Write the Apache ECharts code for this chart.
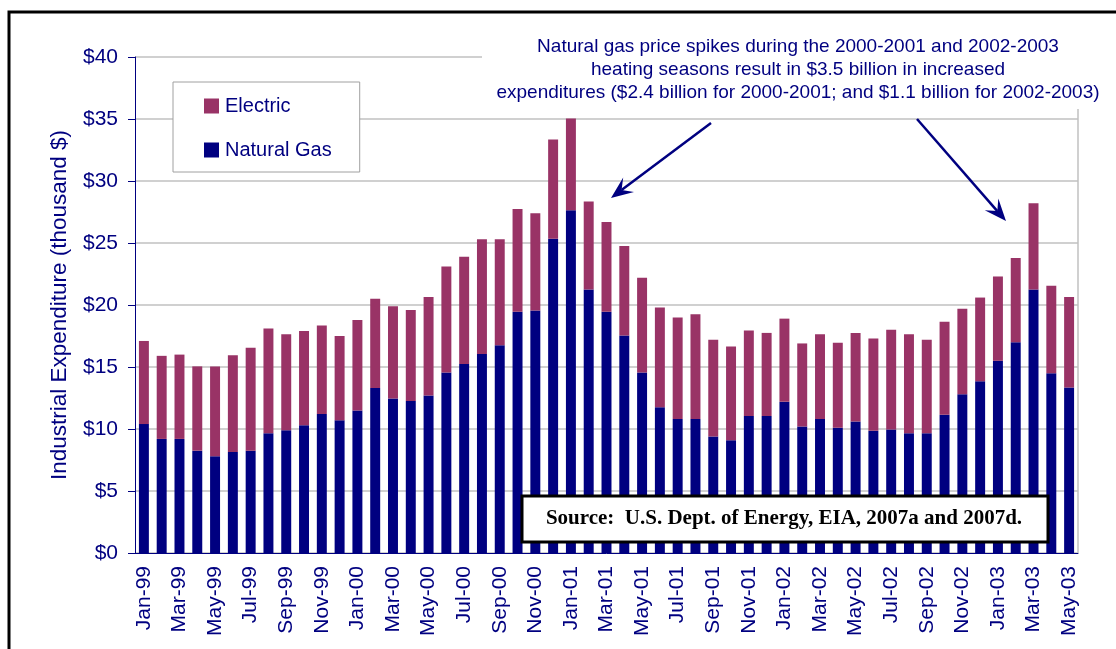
<!DOCTYPE html>
<html>
<head>
<meta charset="utf-8">
<title>Industrial Expenditure</title>
<script src="https://cdn.jsdelivr.net/npm/echarts@6/dist/echarts.min.js"></script>
<style>
  html, body { margin: 0; padding: 0; background: #fff; }
  #chart { width: 1116px; height: 649px; }
</style>
</head>
<body>
<div id="chart"></div>
<script>
// months, Jan-99 .. May-03
const months = [
  'Jan-99', 'Feb-99', 'Mar-99', 'Apr-99', 'May-99', 'Jun-99', 'Jul-99', 'Aug-99', 'Sep-99', 'Oct-99', 'Nov-99', 'Dec-99',
  'Jan-00', 'Feb-00', 'Mar-00', 'Apr-00', 'May-00', 'Jun-00', 'Jul-00', 'Aug-00', 'Sep-00', 'Oct-00', 'Nov-00', 'Dec-00',
  'Jan-01', 'Feb-01', 'Mar-01', 'Apr-01', 'May-01', 'Jun-01', 'Jul-01', 'Aug-01', 'Sep-01', 'Oct-01', 'Nov-01', 'Dec-01',
  'Jan-02', 'Feb-02', 'Mar-02', 'Apr-02', 'May-02', 'Jun-02', 'Jul-02', 'Aug-02', 'Sep-02', 'Oct-02', 'Nov-02', 'Dec-02',
  'Jan-03', 'Feb-03', 'Mar-03', 'Apr-03', 'May-03'
]

// thousand $
const naturalGas = [
  10.4, 9.2, 9.2, 8.25, 7.8, 8.15, 8.25, 9.65, 9.9, 10.3, 11.2, 10.7,
  11.5, 13.3, 12.45, 12.25, 12.7, 14.55, 15.25, 16.05, 16.75, 19.45, 19.55, 25.35,
  27.65, 21.25, 19.45, 17.55, 14.55, 11.75, 10.8, 10.8, 9.4, 9.1, 11.05, 11.05,
  12.2, 10.2, 10.8, 10.1, 10.6, 9.85, 9.95, 9.65, 9.65, 11.15, 12.8, 13.85,
  15.5, 17.0, 21.25, 14.5, 13.35
]

const electric = [
  6.7, 6.7, 6.8, 6.8, 7.25, 7.8, 8.3, 8.45, 7.75, 7.6, 7.15, 6.8,
  7.3, 7.2, 7.45, 7.35, 7.95, 8.55, 8.65, 9.25, 8.55, 8.3, 7.85, 8.0,
  7.4, 7.1, 7.25, 7.2, 7.65, 8.05, 8.2, 8.45, 7.8, 7.55, 6.9, 6.7,
  6.7, 6.7, 6.85, 6.85, 7.15, 7.45, 8.05, 8.0, 7.55, 7.5, 6.9, 6.75,
  6.8, 6.8, 6.95, 7.05, 7.3
]

const noteLines = [
  'Natural gas price spikes during the 2000-2001 and 2002-2003',
  'heating seasons result in $3.5 billion in increased',
  'expenditures ($2.4 billion for 2000-2001; and $1.1 billion for 2002-2003)'
]
const sourceText = 'Source:  U.S. Dept. of Energy, EIA, 2007a and 2007d.'

const NAVY = '#000080'
const PLUM = '#993366'
const FONT = '"Liberation Sans", Arial, sans-serif'

// arrow as a line plus a notched head
const arrow = (x1, y1, x2, y2) => {
  const dx = x2 - x1, dy = y2 - y1
  const len = Math.sqrt(dx * dx + dy * dy)
  const ux = dx / len, uy = dy / len
  const nx = -uy, ny = ux
  const L = 22, W = 9
  const bx = x2 - ux * L, by = y2 - uy * L
  const mx = x2 - ux * L * 0.6, my = y2 - uy * L * 0.6
  return [
    {
      type: 'line',
      z: 5,
      shape: { x1: x1, y1: y1, x2: mx, y2: my },
      style: { stroke: NAVY, lineWidth: 2.5 }
    },
    {
      type: 'polygon',
      z: 5,
      shape: { points: [[x2, y2], [bx + nx * W, by + ny * W], [mx, my], [bx - nx * W, by - ny * W]] },
      style: { fill: NAVY }
    }
  ]
}

const chart = echarts.init(document.getElementById('chart'))

const option = {
  animation: false,
  textStyle: { fontFamily: FONT },
  grid: { left: 135, right: 38, top: 57, bottom: 96 },
  legend: {
    data: ['Electric', 'Natural Gas'],
    orient: 'vertical',
    left: 173,
    top: 82,
    padding: [14, 28, 12, 31],
    itemGap: 24,
    itemWidth: 15,
    itemHeight: 15,
    icon: 'rect',
    backgroundColor: '#fff',
    borderColor: '#a0a0a0',
    borderWidth: 1,
    textStyle: { color: NAVY, fontSize: 20, fontFamily: FONT, padding: [0, 0, 0, 1] }
  },
  xAxis: {
    type: 'category',
    data: months,
    axisLine: { lineStyle: { color: NAVY, width: 1 } },
    axisTick: { interval: 1, length: 6, lineStyle: { color: NAVY } },
    axisLabel: {
      interval: 1,
      rotate: 90,
      margin: 13,
      color: NAVY,
      fontSize: 21,
      fontFamily: FONT
    },
    splitLine: { show: false }
  },
  yAxis: {
    type: 'value',
    min: 0,
    max: 40,
    interval: 5,
    name: 'Industrial Expenditure (thousand $)',
    nameLocation: 'middle',
    nameGap: 64,
    nameTextStyle: { color: NAVY, fontSize: 22.5, fontFamily: FONT },
    axisLine: { show: true, lineStyle: { color: NAVY, width: 1 } },
    axisTick: { show: true, length: 7, lineStyle: { color: NAVY } },
    axisLabel: {
      color: NAVY,
      fontSize: 21,
      fontFamily: FONT,
      margin: 17,
      formatter: v => '$' + v
    },
    splitLine: { lineStyle: { color: '#c0c0c0', width: 1.5 } }
  },
  series: [
    {
      name: 'Natural Gas',
      type: 'bar',
      stack: 'total',
      barWidth: '56%',
      itemStyle: { color: NAVY },
      data: naturalGas
    },
    {
      name: 'Electric',
      type: 'bar',
      stack: 'total',
      itemStyle: { color: PLUM },
      data: electric
    }
  ],
  graphic: [
    // outer frame
    {
      type: 'rect',
      z: 20,
      shape: { x: 9, y: 12, width: 1200, height: 700 },
      style: { fill: 'none', stroke: '#000', lineWidth: 3 }
    },
    // plot right border
    {
      type: 'line',
      z: 0,
      shape: { x1: 1078, y1: 57, x2: 1078, y2: 553 },
      style: { stroke: '#c0c0c0', lineWidth: 1.5 }
    },
    // note background
    {
      type: 'rect',
      z: 1,
      shape: { x: 482, y: 30, width: 630, height: 79 },
      style: { fill: '#fff' }
    },
    ...noteLines.map((t, i) => ({
      type: 'text',
      z: 6,
      x: 798,
      y: 47 + i * 23,
      style: {
        text: t,
        fill: NAVY,
        font: '19px ' + FONT,
        textAlign: 'center',
        textVerticalAlign: 'middle'
      }
    })),
    ...arrow(711, 123, 611, 198),
    ...arrow(917, 119, 1006, 221),
    // source box
    {
      type: 'rect',
      z: 10,
      shape: { x: 522, y: 496, width: 526, height: 46 },
      style: { fill: '#fff', stroke: '#000', lineWidth: 3 }
    },
    {
      type: 'text',
      z: 11,
      x: 784,
      y: 519,
      style: {
        text: sourceText,
        fill: '#000',
        font: 'bold 21px "Liberation Serif", "Times New Roman", serif',
        textAlign: 'center',
        textVerticalAlign: 'middle'
      }
    }
  ]
}

chart.setOption(option)
window.addEventListener('resize', () => chart.resize())
</script>
</body>
</html>
